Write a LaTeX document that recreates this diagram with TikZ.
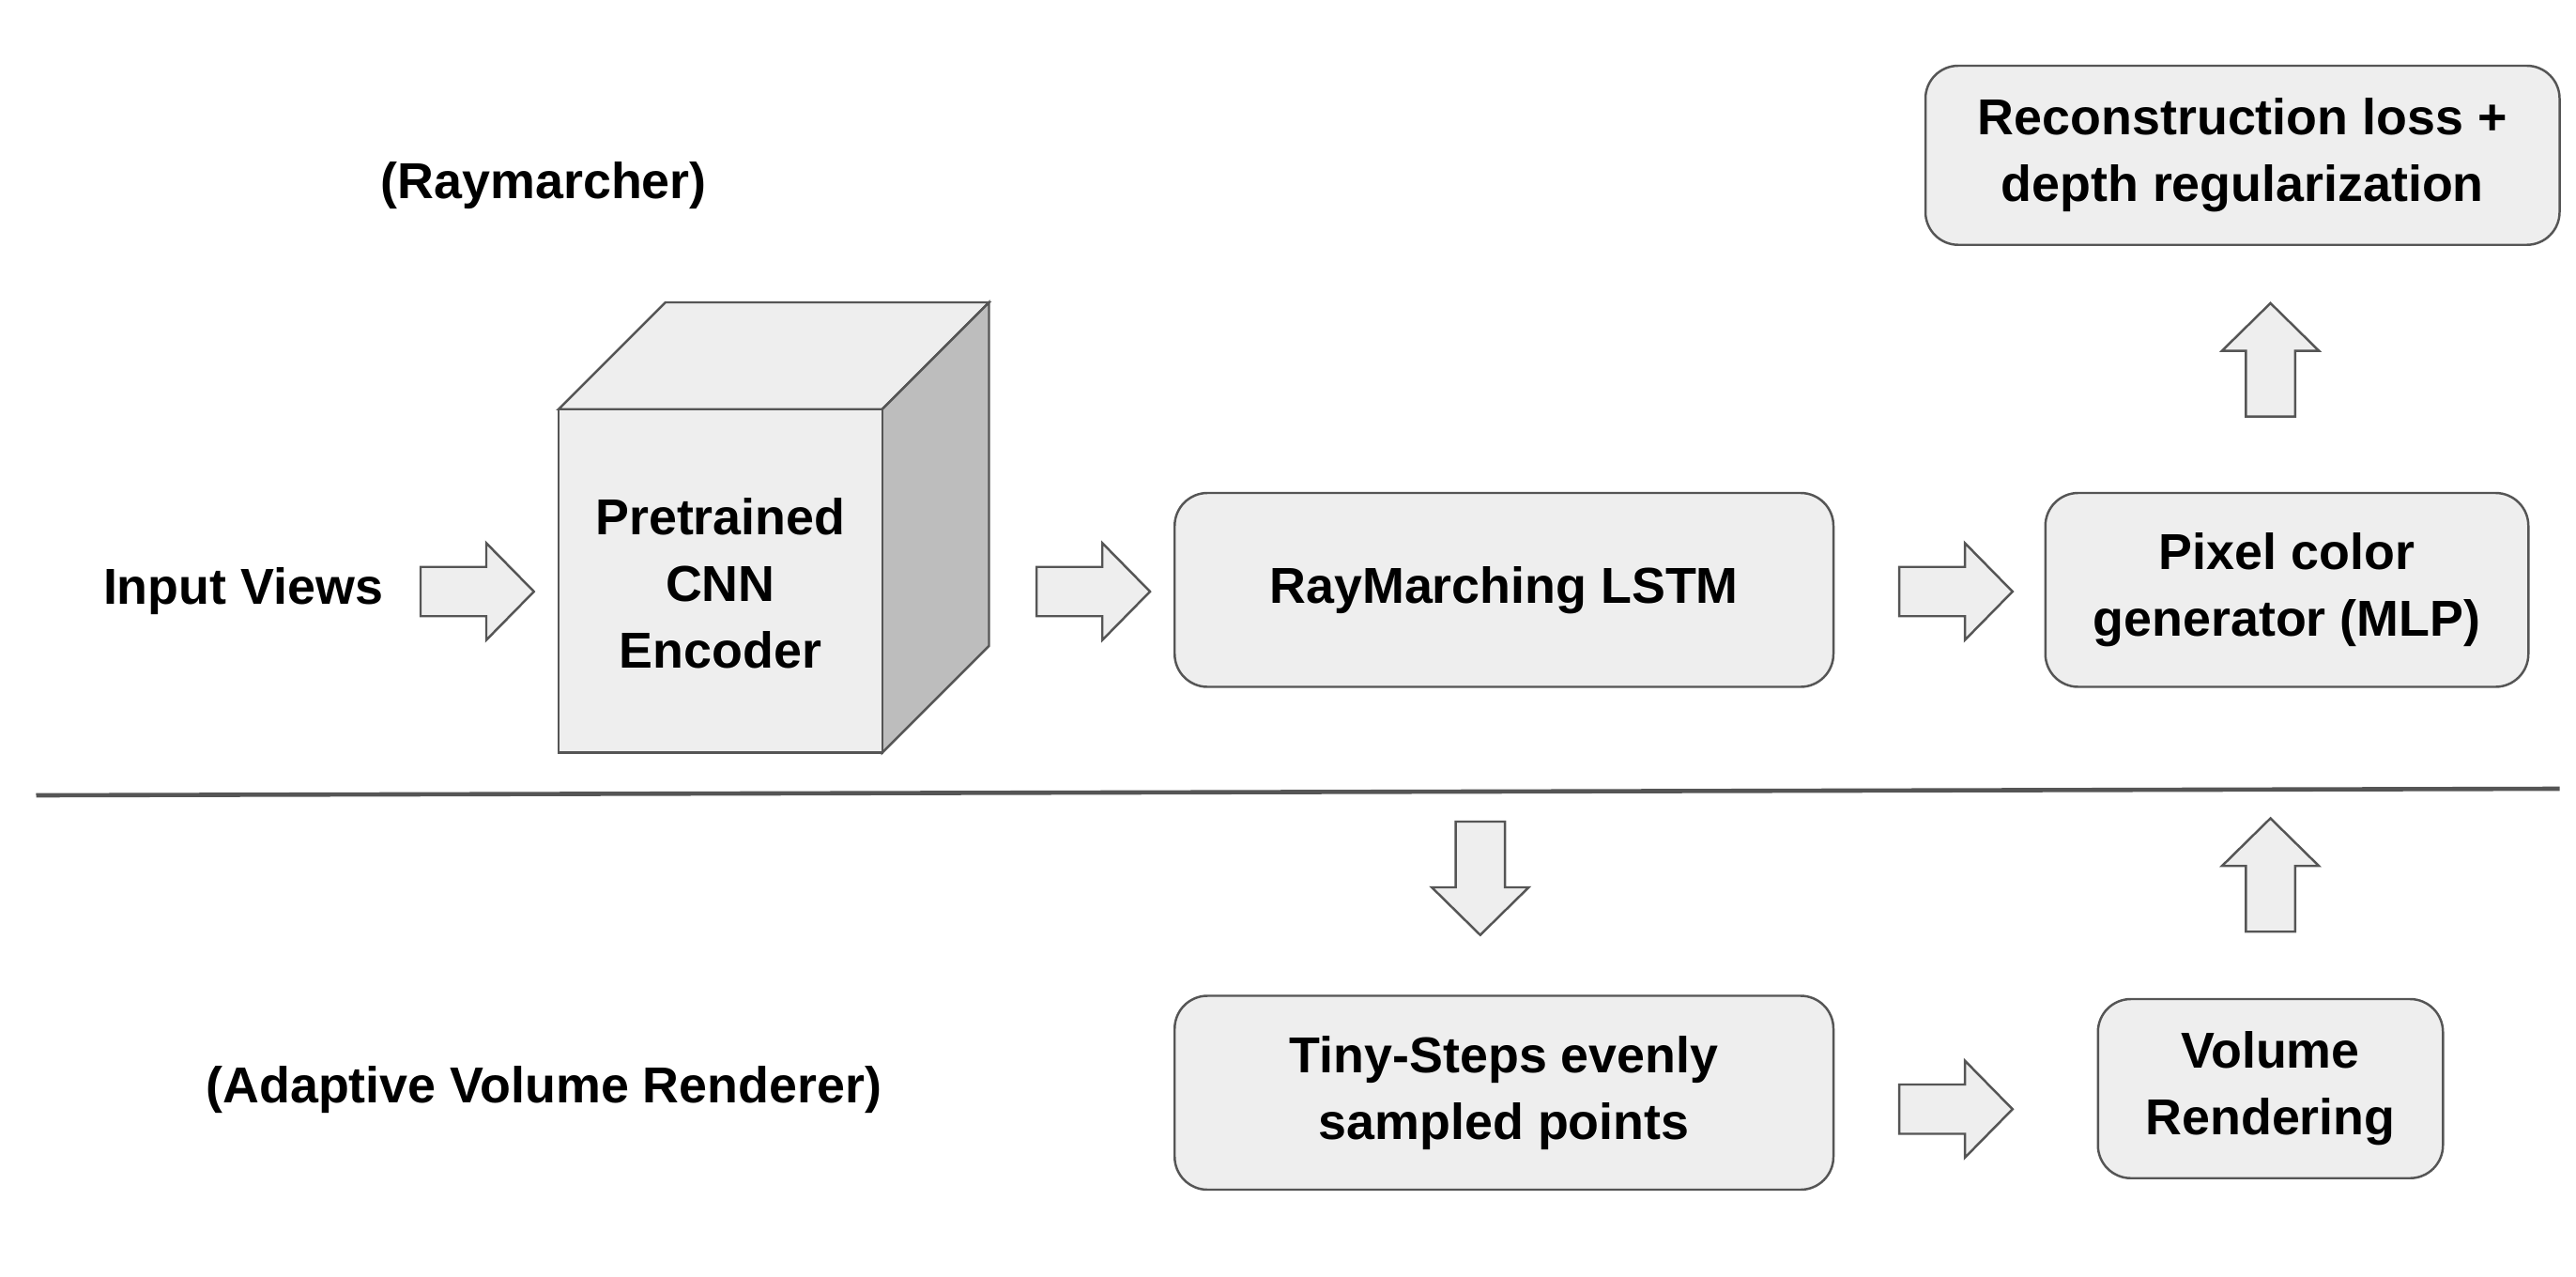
\documentclass[tikz,border=0pt]{standalone}
\usepackage{fontspec}
\setmainfont{Liberation Sans}
\definecolor{boxfill}{HTML}{EEEEEE}
\definecolor{boxline}{HTML}{555555}
\definecolor{sidefill}{HTML}{BDBDBD}
\tikzset{
    stage/.style={draw=boxline,fill=boxfill,rounded corners=0.4cm,line width=0.8pt,
        align=center,font=\bfseries\fontsize{17.5}{23}\selectfont,inner sep=0pt},
    caption/.style={font=\bfseries\fontsize{17.5}{23}\selectfont,align=center},
    blockarrow/.style={draw=boxline,fill=boxfill,line width=0.8pt},
}
% block arrow: centre, rotation (0 = right)
\newcommand\BlockArrow[3]{%
    \draw[blockarrow,shift={(#1,#2)},rotate=#3]
        (-34.5,-15) -- (5.5,-15) -- (5.5,-29.5) -- (34.5,0) -- (5.5,29.5) -- (5.5,15) -- (-34.5,15) -- cycle;
}

\begin{document}
\begin{tikzpicture}[x=0.02cm,y=-0.02cm]
    \useasboundingbox (0,0) rectangle (1568,777);
    % upper row
    \node[caption] (raym) at (331,113) {(Raymarcher)};
    \node[caption] (input) at (148,360) {Input Views};
    \BlockArrow{290.5}{360}{0}
    % cube
    \draw[blockarrow,fill=boxfill] (340,249) -- (405,184) -- (602,184) -- (537,249) -- cycle;
    \draw[blockarrow,fill=sidefill] (537,249) -- (602,184) -- (602,393) -- (537,458) -- cycle;
    \draw[blockarrow] (340,249) rectangle (537,458);
    \node[caption] (cnn) at (438.5,355) {Pretrained\\CNN\\Encoder};
    \BlockArrow{665.5}{360}{0}
    \node[stage,minimum width=401*0.02cm,minimum height=118*0.02cm] (lstm) at (915.5,359) {RayMarching LSTM};
    \BlockArrow{1190.5}{360}{0}
    \node[stage,minimum width=294*0.02cm,minimum height=118*0.02cm] (pixel) at (1392,359) {Pixel color\\generator (MLP)};
    \BlockArrow{1382}{219}{90}
    \node[stage,minimum width=386*0.02cm,minimum height=109*0.02cm] (loss) at (1365,94.5) {Reconstruction loss +\\depth regularization};
    % separator
    \draw[boxline,line width=1.5pt] (22,484) -- (1558,480);
    % lower row
    \BlockArrow{901}{534.5}{-90}
    \BlockArrow{1382}{532.5}{90}
    \node[caption] (adapt) at (331,663) {(Adaptive Volume Renderer)};
    \node[stage,minimum width=401*0.02cm,minimum height=118*0.02cm] (tiny) at (915.5,665) {Tiny-Steps evenly\\sampled points};
    \BlockArrow{1190.5}{675}{0}
    \node[stage,minimum width=210*0.02cm,minimum height=109*0.02cm] (vol) at (1382,662.5) {Volume\\Rendering};
\end{tikzpicture}
\end{document}
